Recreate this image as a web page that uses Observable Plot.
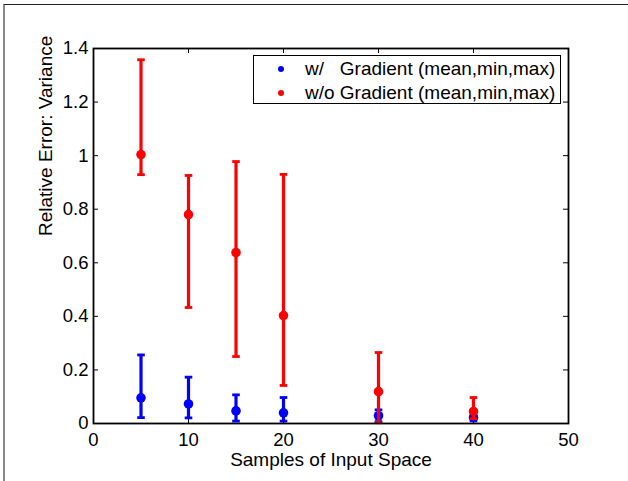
<!DOCTYPE html>
<html>
<head>
<meta charset="utf-8">
<script src="https://cdn.jsdelivr.net/npm/d3@7"></script>
<script src="https://cdn.jsdelivr.net/npm/@observablehq/plot@0.6"></script>
<style>
  html, body { margin: 0; padding: 0; background: #fff; }
  #wrap { position: relative; width: 628px; height: 481px; overflow: hidden; font-family: "Liberation Sans", Arial, Helvetica, sans-serif; }
  #frame { position: absolute; left: 3px; top: 4px; width: 640px; height: 500px; border-left: 2px solid #888; border-top: 1.5px solid #222; }
  #chart { position: absolute; left: 0; top: 0; }
  #legend { position: absolute; left: 253px; top: 55px; width: 308px; height: 49px; border: 1px solid #000; background: #fff; box-sizing: border-box; }
  .row { position: absolute; left: 0; height: 24px; display: flex; align-items: center; white-space: pre; font-size: 19px; color: #000; }
  .sw { display: inline-block; width: 6px; height: 6px; border-radius: 50%; margin-left: 24px; margin-right: 21px; }
</style>
</head>
<body>
<div id="wrap">
  <div id="frame"></div>
  <div id="chart"></div>
  <div id="legend"></div>
</div>
<script>
const samples = [5, 10, 15, 20, 30, 40];

const withMean = [0.096, 0.073, 0.047, 0.040, 0.029, 0.022];
const withMin  = [0.022, 0.021, 0.009, 0.009, 0.007, 0.010];
const withMax  = [0.256, 0.173, 0.107, 0.097, 0.051, 0.030];

const woMean = [1.004, 0.780, 0.638, 0.403, 0.119, 0.045];
const woMin  = [0.929, 0.433, 0.250, 0.142, 0.003, 0.018];
const woMax  = [1.358, 0.926, 0.978, 0.930, 0.265, 0.097];

const xTicks = [0, 10, 20, 30, 40, 50];
const yTicks = [0, 0.2, 0.4, 0.6, 0.8, 1, 1.2, 1.4];

const seriesNames = ["w/   Gradient (mean,min,max)", "w/o Gradient (mean,min,max)"];
const seriesColors = ["#0000ff", "#ff0000"];

const withData = samples.map((x, i) => ({x, mean: withMean[i], min: withMin[i], max: withMax[i]}));
const woData = samples.map((x, i) => ({x, mean: woMean[i], min: woMin[i], max: woMax[i]}));

const W = 628, H = 481;
const mL = 93, mR = 60, mT = 48, mB = 58;
const innerW = W - mL - mR, innerH = H - mT - mB;
const tickLen = 5;

const capSymbol = {
  draw(ctx, size) {
    const w = Math.sqrt(size / Math.PI);
    ctx.moveTo(-w, 0);
    ctx.lineTo(w, 0);
  }
};

function seriesMarks(data, color) {
  return [
    Plot.ruleX(data, {x: "x", y1: "min", y2: "max", stroke: color, strokeWidth: 3.2}),
    Plot.dot(data, {x: "x", y: "max", r: 3.8, symbol: capSymbol, stroke: color, strokeWidth: 2.8, fill: "none"}),
    Plot.dot(data, {x: "x", y: "min", r: 3.8, symbol: capSymbol, stroke: color, strokeWidth: 2.8, fill: "none"}),
    Plot.dot(data, {x: "x", y: "mean", r: 4.8, fill: color, stroke: "none"})
  ];
}

const plot = Plot.plot({
  width: W,
  height: H,
  marginLeft: mL,
  marginRight: mR,
  marginTop: mT,
  marginBottom: mB,
  style: {fontFamily: "'Liberation Sans', Arial, Helvetica, sans-serif", fontSize: "18.5px", color: "#000", background: "transparent", overflow: "visible"},
  x: {domain: [0, 50], ticks: xTicks},
  y: {domain: [0, 1.4], ticks: yTicks},
  marks: [
    Plot.tickX(xTicks, {x: d => d, insetTop: innerH - tickLen, stroke: "#000", strokeWidth: 1}),
    Plot.tickX(xTicks, {x: d => d, insetBottom: innerH - tickLen, stroke: "#000", strokeWidth: 1}),
    Plot.tickY(yTicks, {y: d => d, insetRight: innerW - tickLen, stroke: "#000", strokeWidth: 1}),
    Plot.tickY(yTicks, {y: d => d, insetLeft: innerW - tickLen, stroke: "#000", strokeWidth: 1}),
    Plot.axisX({ticks: xTicks, tickSize: 0, tickPadding: 9, tickFormat: d => String(d), label: null, fontSize: 18.5}),
    Plot.axisY({ticks: yTicks, tickSize: 0, tickPadding: 5, tickFormat: d => String(d), label: null, fontSize: 18.5}),
    ...seriesMarks(withData, seriesColors[0]),
    ...seriesMarks(woData, seriesColors[1]),
    Plot.frame({stroke: "#000", strokeWidth: 1.8}),
    Plot.text(["Samples of Input Space"], {frameAnchor: "bottom", dy: 36, lineAnchor: "middle", fontSize: 19, fill: "#000"}),
    Plot.text(["Relative Error: Variance"], {frameAnchor: "left", dx: -47.5, rotate: -90, lineAnchor: "middle", fontSize: 19, fill: "#000"})
  ]
});
document.getElementById("chart").appendChild(plot);

const legend = document.getElementById("legend");
seriesNames.forEach((name, i) => {
  const row = document.createElement("div");
  row.className = "row";
  row.style.top = (1 + i * 24) + "px";
  const sw = document.createElement("span");
  sw.className = "sw";
  sw.style.background = seriesColors[i];
  const label = document.createElement("span");
  label.textContent = name;
  row.appendChild(sw);
  row.appendChild(label);
  legend.appendChild(row);
});
</script>
</body>
</html>
